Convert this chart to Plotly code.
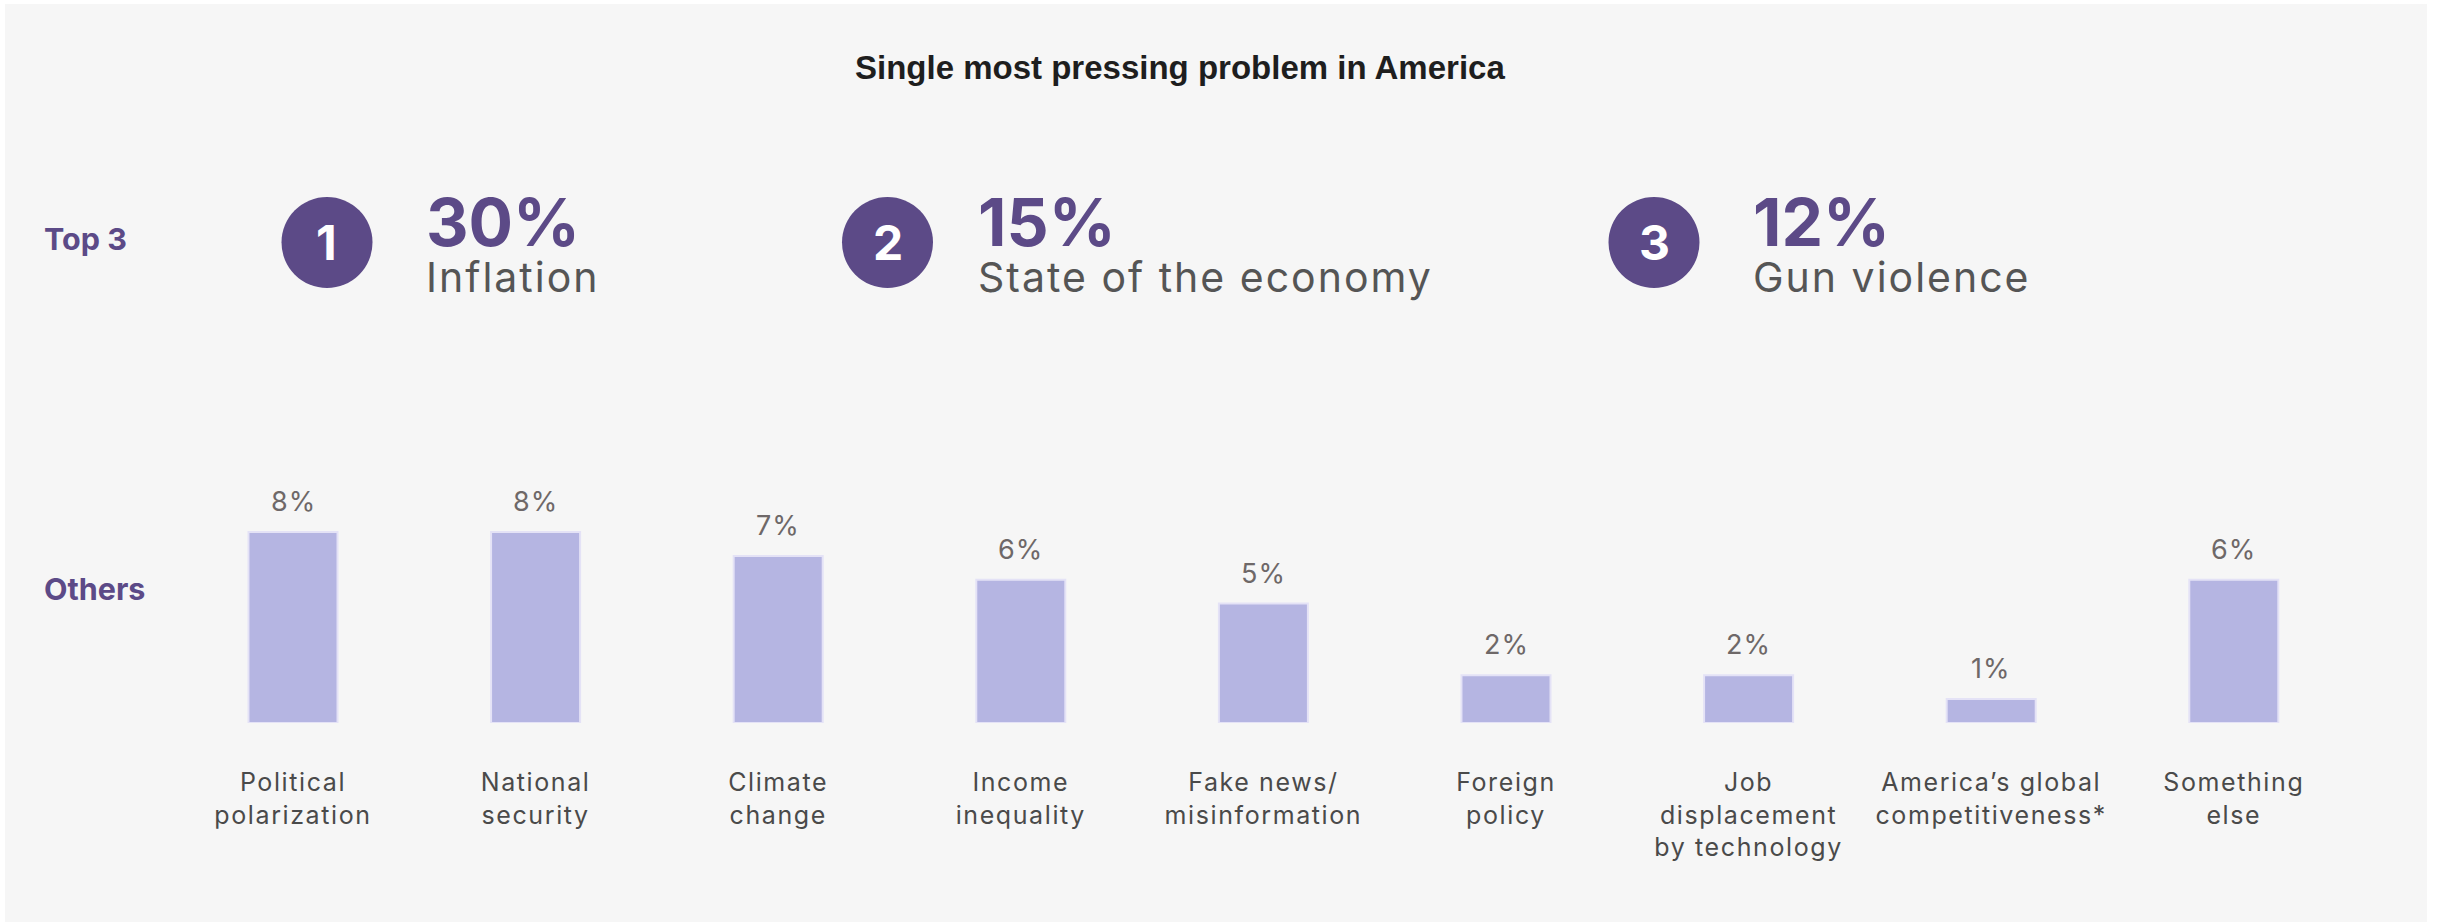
import plotly.graph_objects as go

# ---- data -------------------------------------------------------------
categories = [
    "Political<br>polarization",
    "National<br>security",
    "Climate<br>change",
    "Income<br>inequality",
    "Fake news/<br>misinformation",
    "Foreign<br>policy",
    "Job<br>displacement<br>by technology",
    "America’s global<br>competitiveness*",
    "Something<br>else",
]
values = [8, 8, 7, 6, 5, 2, 2, 1, 6]

top_ranks = [1, 2, 3]
top_values = [30, 15, 12]
top_labels = ["Inflation", "State of the economy", "Gun violence"]

# ---- canvas / style ---------------------------------------------------
W, H = 2438, 922
PURPLE = "#5c4a87"
BAR_FILL = "#b5b5e2"
BAR_EDGE = "#e4e2f6"
PANEL = "#f6f6f6"
FONT = "Inter"


def px(x):
    return x / W


def py(y):
    return 1 - y / H


def spaced(text, spacing):
    """Wrap each line of a label in a letter-spaced span."""
    return "<br>".join(
        f'<span style="letter-spacing:{spacing}px">{line}</span>'
        for line in text.split("<br>")
    )


fig = go.Figure()

xs = list(range(len(categories)))
fig.add_trace(
    go.Bar(
        x=xs,
        y=values,
        marker=dict(color=BAR_FILL, line=dict(color=BAR_EDGE, width=2)),
        hoverinfo="skip",
    )
)

annotations = []

# value labels above each bar
for xi, v in zip(xs, values):
    annotations.append(
        dict(
            x=xi, y=v, xref="x", yref="y",
            text=spaced(f"{v}%", 1), showarrow=False,
            yanchor="bottom", yshift=12,
            font=dict(family=FONT, size=27, color="#6e6868"),
        )
    )

# title
annotations.append(
    dict(
        x=px(1180), y=py(67), xref="paper", yref="paper",
        text="<b>Single most pressing problem in America</b>",
        showarrow=False, xanchor="center", yanchor="middle",
        font=dict(family="Liberation Sans", size=33, color="#1e1e1e"),
    )
)

# row headers
for label, yc in (("Top 3", 238), ("Others", 588)):
    annotations.append(
        dict(
            x=px(42), y=py(yc), xref="paper", yref="paper",
            text=f"<b>{label}</b>", showarrow=False,
            xanchor="left", yanchor="middle",
            font=dict(family=FONT, size=30.5, color=PURPLE),
        )
    )

# top-3 badges and figures
badge_cx = [327, 887.5, 1654]
text_left = [424, 976, 1751]
BADGE_CY = 242.5
BADGE_R = 45.5
shapes = [
    dict(
        type="rect", xref="paper", yref="paper",
        x0=px(5), x1=px(2427), y0=0, y1=py(4),
        fillcolor=PANEL, line=dict(width=0), layer="below",
    )
]
for rank, val, lab, cx, tx in zip(top_ranks, top_values, top_labels, badge_cx, text_left):
    shapes.append(
        dict(
            type="circle", xref="paper", yref="paper",
            xsizemode="pixel", ysizemode="pixel",
            xanchor=px(cx), yanchor=py(BADGE_CY),
            x0=-BADGE_R, x1=BADGE_R, y0=-BADGE_R, y1=BADGE_R,
            fillcolor=PURPLE, line=dict(width=0),
        )
    )
    annotations.append(
        dict(
            x=px(cx), y=py(BADGE_CY), xref="paper", yref="paper",
            text=f"<b>{rank}</b>", showarrow=False,
            xanchor="center", yanchor="middle",
            font=dict(family=FONT, size=48, color="white"),
        )
    )
    # big share on the first line, issue name beneath it
    annotations.append(
        dict(
            x=px(tx), y=py(242), xref="paper", yref="paper",
            text=(
                f'<span style="font-size:66px;color:{PURPLE}"><b>{val}%</b></span>'
                f'<br><span style="font-size:41px;letter-spacing:2px">{lab}</span>'
            ),
            showarrow=False, align="left",
            xanchor="left", yanchor="middle",
            font=dict(family=FONT, size=35.4, color="#555555"),
        )
    )

# bar area geometry: category pitch ~242.6px, zero line at y=723px
PITCH = 242.6
first_cx = 293
x_lo = first_cx - PITCH / 2
x_hi = x_lo + PITCH * len(categories)
Y_MAX = 10
y_zero = 723
y_top = y_zero - 23.875 * Y_MAX

fig.update_layout(
    width=W, height=H,
    margin=dict(l=0, r=0, t=0, b=0),
    paper_bgcolor="white",
    plot_bgcolor="rgba(0,0,0,0)",
    showlegend=False,
    bargap=0.633,
    shapes=shapes,
    annotations=annotations,
    xaxis=dict(
        domain=[px(x_lo), px(x_hi)],
        range=[-0.5, len(categories) - 0.5],
        tickvals=xs, ticktext=[spaced(c, 1.6) for c in categories],
        showgrid=False, zeroline=False, showline=False,
        ticks="", ticklabelstandoff=42,
        tickfont=dict(family=FONT, size=25, color="#4a4a4a"),
        fixedrange=True,
    ),
    yaxis=dict(
        domain=[py(y_zero), py(y_top)],
        range=[0, Y_MAX],
        visible=False, fixedrange=True,
    ),
)

fig.write_html("out.html")
